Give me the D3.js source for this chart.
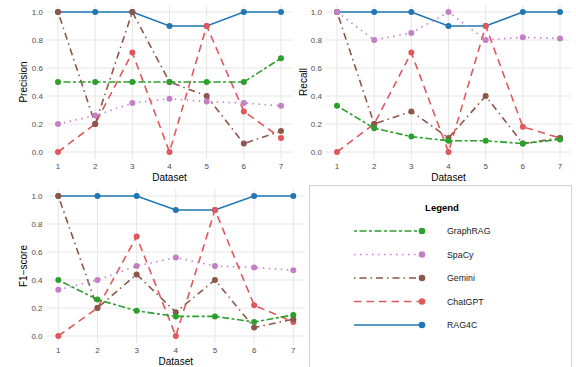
<!DOCTYPE html>
<html><head><meta charset="utf-8">
<script src="https://cdn.jsdelivr.net/npm/d3@7"></script>
<style>body{margin:0;background:#fff;}svg{display:block;font-family:"Liberation Sans",Arial,sans-serif;}</style>
</head><body>
<svg id="c" width="576" height="367"></svg>
<script>
const datasets = [1, 2, 3, 4, 5, 6, 7];
const yTicks = [0, 0.2, 0.4, 0.6, 0.8, 1.0];
const models = ["GraphRAG", "SpaCy", "Gemini", "ChatGPT", "RAG4C"];
const colors = {GraphRAG: "#2ca02c", SpaCy: "#c57fc7", Gemini: "#8c564b", ChatGPT: "#e0585b", RAG4C: "#1f77b4"};
const dashes = {GraphRAG: "3,2.5,7,2.5", SpaCy: "1.5,4.5", Gemini: "1.5,4,7,4", ChatGPT: "7.5,5", RAG4C: null};

const precisionGraphRAG = [0.5, 0.5, 0.5, 0.5, 0.5, 0.5, 0.67];
const precisionSpaCy    = [0.2, 0.26, 0.35, 0.38, 0.36, 0.35, 0.33];
const precisionGemini   = [1.0, 0.2, 1.0, 0.5, 0.4, 0.06, 0.15];
const precisionChatGPT  = [0.0, 0.2, 0.71, 0.0, 0.9, 0.29, 0.1];
const precisionRAG4C    = [1.0, 1.0, 1.0, 0.9, 0.9, 1.0, 1.0];

const recallGraphRAG = [0.33, 0.17, 0.11, 0.08, 0.08, 0.06, 0.09];
const recallSpaCy    = [1.0, 0.8, 0.85, 1.0, 0.8, 0.82, 0.81];
const recallGemini   = [1.0, 0.2, 0.29, 0.1, 0.4, 0.06, 0.1];
const recallChatGPT  = [0.0, 0.2, 0.71, 0.0, 0.9, 0.18, 0.1];
const recallRAG4C    = [1.0, 1.0, 1.0, 0.9, 0.9, 1.0, 1.0];

const f1GraphRAG = [0.4, 0.26, 0.18, 0.14, 0.14, 0.1, 0.15];
const f1SpaCy    = [0.33, 0.4, 0.5, 0.56, 0.5, 0.49, 0.47];
const f1Gemini   = [1.0, 0.2, 0.44, 0.17, 0.4, 0.06, 0.12];
const f1ChatGPT  = [0.0, 0.2, 0.71, 0.0, 0.9, 0.22, 0.1];
const f1RAG4C    = [1.0, 1.0, 1.0, 0.9, 0.9, 1.0, 1.0];

const panels = [
  {title: "Precision", x0: 58, x1: 281, y0: 152, y1: 12, titleX: 23,
   data: {GraphRAG: precisionGraphRAG, SpaCy: precisionSpaCy, Gemini: precisionGemini, ChatGPT: precisionChatGPT, RAG4C: precisionRAG4C}},
  {title: "Recall", x0: 337, x1: 560, y0: 152, y1: 12, titleX: 303,
   data: {GraphRAG: recallGraphRAG, SpaCy: recallSpaCy, Gemini: recallGemini, ChatGPT: recallChatGPT, RAG4C: recallRAG4C}},
  {title: "F1\u2212score", x0: 58.3, x1: 293.3, y0: 336, y1: 196, titleX: 23,
   data: {GraphRAG: f1GraphRAG, SpaCy: f1SpaCy, Gemini: f1Gemini, ChatGPT: f1ChatGPT, RAG4C: f1RAG4C}}
];

const svg = d3.select("#c");

panels.forEach(p => {
  const x = d3.scaleLinear().domain([1, 7]).range([p.x0, p.x1]);
  const y = d3.scaleLinear().domain([0, 1]).range([p.y0, p.y1]);
  const xl = x(0.7), xr = x(7.3), yt = y(1.05), yb = y(-0.05);
  const g = svg.append("g");
  // grid
  g.selectAll(".hg").data(yTicks).join("line")
    .attr("x1", xl).attr("x2", xr).attr("y1", d => y(d)).attr("y2", d => y(d))
    .attr("stroke", "#e6e6e6").attr("stroke-width", 1);
  g.selectAll(".vg").data(datasets).join("line")
    .attr("y1", yt).attr("y2", yb).attr("x1", d => x(d)).attr("x2", d => x(d))
    .attr("stroke", "#e6e6e6").attr("stroke-width", 1);
  // tick labels
  g.selectAll(".yt").data(yTicks).join("text")
    .attr("x", xl - 4).attr("y", d => y(d)).attr("dy", "0.35em")
    .attr("text-anchor", "end").attr("font-size", 8).attr("fill", "#4d4d4d")
    .text(d => d3.format(".1f")(d));
  g.selectAll(".xt").data(datasets).join("text")
    .attr("x", d => x(d)).attr("y", yb + 9.5)
    .attr("text-anchor", "middle").attr("font-size", 8).attr("fill", "#4d4d4d")
    .text(d => d);
  g.append("text").attr("x", (xl + xr) / 2).attr("y", yb + 22)
    .attr("text-anchor", "middle").attr("font-size", 10).attr("fill", "#000").text("Dataset");
  g.append("text").attr("transform", `translate(${p.titleX},${(yt + yb) / 2}) rotate(-90)`)
    .attr("text-anchor", "middle").attr("dy", "0.35em").attr("font-size", 10).attr("fill", "#000").text(p.title);
  // series (drawn in reverse legend order)
  const line = d3.line().x((d, i) => x(datasets[i])).y(d => y(d));
  models.slice().reverse().forEach(m => {
    const vals = p.data[m];
    g.append("path").attr("d", line(vals)).attr("fill", "none")
      .attr("stroke", colors[m]).attr("stroke-width", 1.6)
      .attr("stroke-dasharray", dashes[m]);
    g.selectAll(null).data(vals).join("circle")
      .attr("cx", (d, i) => x(datasets[i])).attr("cy", d => y(d)).attr("r", 3)
      .attr("fill", colors[m]);
  });
});

// legend
const lg = svg.append("g");
lg.append("rect").attr("x", 309.5).attr("y", 185.5).attr("width", 262).attr("height", 190)
  .attr("fill", "#fff").attr("stroke", "#d0d0d0").attr("stroke-width", 1);
lg.append("text").attr("x", 442).attr("y", 208).attr("dy", "0.35em").attr("text-anchor", "middle")
  .attr("font-size", 9.5).attr("font-weight", "bold").text("Legend");
const rowY = d3.scalePoint().domain(models).range([231, 325]);
models.forEach(m => {
  const yy = rowY(m);
  lg.append("line").attr("x1", 354).attr("x2", 422).attr("y1", yy).attr("y2", yy)
    .attr("stroke", colors[m]).attr("stroke-width", 1.6).attr("stroke-dasharray", dashes[m]);
  lg.append("circle").attr("cx", 422).attr("cy", yy).attr("r", 3.3).attr("fill", colors[m]);
  lg.append("text").attr("x", 447).attr("y", yy).attr("dy", "0.35em").attr("font-size", 8.8)
    .attr("fill", "#222").text(m);
});
</script>
</body></html>
